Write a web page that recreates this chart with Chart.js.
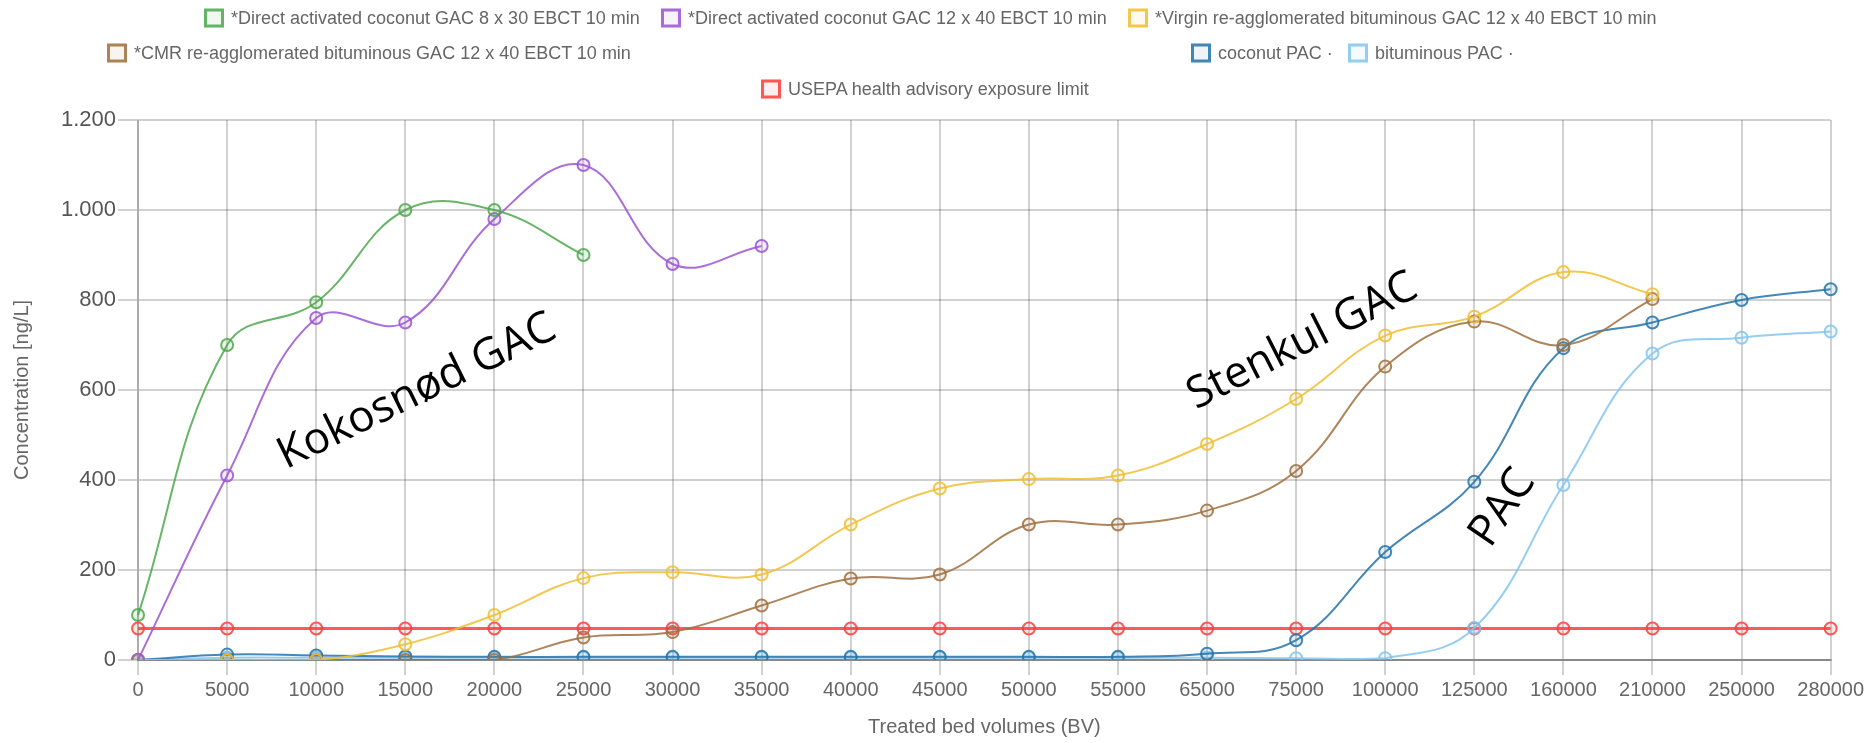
<!DOCTYPE html>
<html>
<head>
<meta charset="utf-8">
<script src="https://cdn.jsdelivr.net/npm/chart.js"></script>
<style>
  body { margin: 0; background: #fff; }
  #wrap { position: relative; width: 1867px; height: 743px; }
  #legend { position: absolute; left: 0; top: 0; width: 1867px; height: 105px;
            font-family: "Liberation Sans", Arial, sans-serif; font-size: 18px; color: #666; }
  .item { position: absolute; display: flex; align-items: center; white-space: nowrap; transform: translateY(-50%); }
  .box { width: 14px; height: 13px; border: 3px solid; margin-right: 7px; }
</style>
</head>
<body>
<div id="wrap">
  <canvas id="myChart" width="1867" height="743"></canvas>
  <div id="legend"></div>
</div>
<script>
const categories = ['0', '5000', '10000', '15000', '20000', '25000', '30000', '35000', '40000', '45000',
  '50000', '55000', '65000', '75000', '100000', '125000', '160000', '210000', '250000', '280000'];

const coconut8x30 = [100, 700, 795, 1000, 1000, 900];
const coconut12x40 = [0, 410, 760, 750, 980, 1100, 880, 920];
const virginBituminous = [0, 0, 0, 35, 100, 182, 195, 190, 301, 381, 402, 410, 480, 580, 721, 763, 862, 813];
const cmrBituminous = [0, 0, 0, 0, 0, 50, 62, 121, 181, 190, 301, 301, 332, 420, 652, 752, 700, 802];
const coconutPAC = [0, 12, 10, 8, 7, 7, 7, 7, 7, 7, 7, 7, 14, 44, 240, 396, 693, 750, 800, 824];
const bituminousPAC = [0, 5, 5, 5, 5, 5, 5, 5, 5, 5, 5, 5, 5, 4, 4, 71, 389, 681, 716, 730];
const usepaLimit = [70, 70, 70, 70, 70, 70, 70, 70, 70, 70, 70, 70, 70, 70, 70, 70, 70, 70, 70, 70];

const yTickLabels = ['0', '200', '400', '600', '800', '1.000', '1.200'];

const seriesLabels = [
  '*Direct activated coconut GAC 8 x 30 EBCT 10 min',
  '*Direct activated coconut GAC 12 x 40 EBCT 10 min',
  '*Virgin re-agglomerated bituminous GAC 12 x 40 EBCT 10 min',
  '*CMR re-agglomerated bituminous GAC 12 x 40 EBCT 10 min',
  'coconut PAC \u00b7',
  'bituminous PAC \u00b7',
  'USEPA health advisory exposure limit'
];
const seriesColors = ['77,168,77', '155,85,210', '240,190,50', '160,112,62', '35,115,170', '130,198,238', '255,60,60'];

// annotation texts placed in data space: [text, category index, value, angle]
const notes = [
  ['Kokosnød GAC', 3.13, 596, -26],
  ['Stenkul GAC', 13.07, 708, -27],
  ['PAC', 15.32, 338, -56]
];

// legend rows as in the picture: [dataset index, left px, row centre px]
const legendPlaces = [[0, 204, 18], [1, 661, 18], [2, 1128, 18], [3, 107, 53], [4, 1191, 53], [5, 1348, 53], [6, 761, 89]];

const legendDiv = document.getElementById('legend');
legendPlaces.forEach(([i, x, y]) => {
  const el = document.createElement('div');
  el.className = 'item';
  el.style.left = x + 'px';
  el.style.top = y + 'px';
  const b = document.createElement('span');
  b.className = 'box';
  b.style.borderColor = 'rgba(' + seriesColors[i] + ',0.85)';
  b.style.background = 'rgba(' + seriesColors[i] + ',0.08)';
  el.appendChild(b);
  el.appendChild(document.createTextNode(seriesLabels[i]));
  legendDiv.appendChild(el);
});

const allData = [coconut8x30, coconut12x40, virginBituminous, cmrBituminous, coconutPAC, bituminousPAC, usepaLimit];

const datasets = allData.map((d, i) => ({
  label: seriesLabels[i],
  data: d,
  borderColor: 'rgba(' + seriesColors[i] + ',0.85)',
  backgroundColor: 'rgba(' + seriesColors[i] + ',0.12)',
  pointBorderColor: 'rgba(' + seriesColors[i] + ',0.85)',
  pointBackgroundColor: 'rgba(' + seriesColors[i] + ',0.12)',
  borderWidth: i === 6 ? 3 : 2,
  pointRadius: 6,
  pointBorderWidth: 2,
  tension: 0.4,
  fill: false
}));

const notesPlugin = {
  id: 'notes',
  afterDatasetsDraw(chart) {
    const c = chart.ctx, xs = chart.scales.x, ys = chart.scales.y;
    c.save();
    c.fillStyle = '#000';
    c.font = '44px "Open Sans", sans-serif';
    c.textAlign = 'center';
    c.textBaseline = 'middle';
    notes.forEach(([t, xi, v, a]) => {
      c.save();
      c.translate(xs.getPixelForValue(xi), ys.getPixelForValue(v));
      c.rotate(a * Math.PI / 180);
      c.fillText(t, 0, 0);
      c.restore();
    });
    c.restore();
  }
};

const ctx = document.getElementById('myChart');
new Chart(ctx, {
  type: 'line',
  data: { labels: categories, datasets: datasets },
  options: {
    responsive: false,
    animation: false,
    layout: { padding: { top: 120, right: 34, bottom: 4, left: 0 } },
    plugins: {
      legend: { display: false },
      tooltip: { enabled: false }
    },
    scales: {
      x: {
        grid: { color: 'rgba(0,0,0,0.18)', lineWidth: 2, tickLength: 15 },
        border: { color: 'rgba(0,0,0,0.35)', width: 2 },
        ticks: { color: '#666', font: { family: '"Liberation Sans", Arial', size: 20 }, maxRotation: 0, autoSkip: false, padding: 3 },
        title: { display: true, text: 'Treated bed volumes (BV)', color: '#666',
                 font: { family: '"Liberation Sans", Arial', size: 20 }, padding: { top: 10, bottom: 0 } }
      },
      y: {
        min: 0, max: 1200,
        grid: { color: 'rgba(0,0,0,0.18)', lineWidth: 2, tickLength: 20 },
        border: { color: 'rgba(0,0,0,0.18)', width: 2 },
        ticks: { stepSize: 200, color: '#555', font: { family: '"Liberation Sans", Arial', size: 22 }, padding: 2,
                 callback: (v) => yTickLabels[v / 200] },
        title: { display: true, text: 'Concentration [ng/L]', color: '#666',
                 font: { family: '"Liberation Sans", Arial', size: 20 }, padding: { top: 10, bottom: 25 } }
      }
    }
  },
  plugins: [notesPlugin]
});
</script>
</body>
</html>
